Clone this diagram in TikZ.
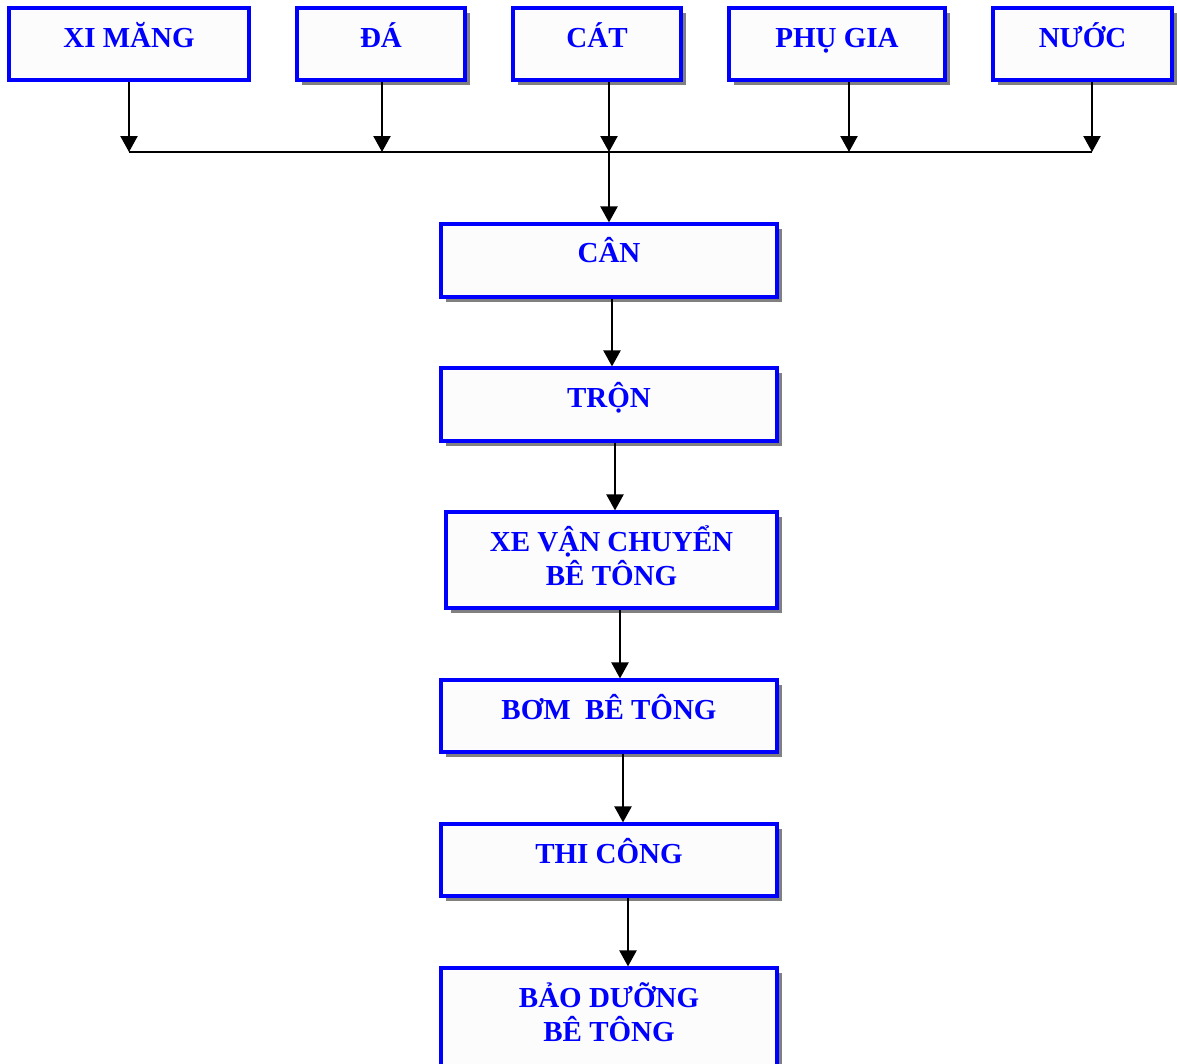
\documentclass[tikz,border=0pt]{standalone}
\usepackage{fontspec}
\setmainfont{Liberation Serif}
\usetikzlibrary{arrows.meta,shadows}
\definecolor{boxblue}{RGB}{0,0,255}
\definecolor{shadowgray}{RGB}{128,128,128}
\tikzset{
	flatbox/.style 2 args={draw=boxblue, line width=1.8pt, fill=white!99!black,
		minimum width=#1*0.02cm, minimum height=#2*0.02cm, inner sep=0pt},
	box/.style 2 args={flatbox={#1}{#2},
		drop shadow={shadow xshift=0.1cm, shadow yshift=-0.1cm, fill=shadowgray, opacity=1}},
	lbl/.style={text=boxblue, font=\fontsize{16.5}{19.2}\selectfont\bfseries,
		anchor=base, align=center, inner sep=0pt},
	link/.style={line width=1.3pt},
	arr/.style={link, -{Triangle[width=0.34cm,length=0.32cm]}}
}
\begin{document}
\begin{tikzpicture}[x=0.02cm,y=-0.02cm]
	\useasboundingbox (0,0) rectangle (1177,1064);

	% input materials
	\node[flatbox={240}{72}] (ximang) at (129,44) {};
	\node[box={168}{72}] (da) at (381,44) {};
	\node[box={168}{72}] (cat) at (597,44) {};
	\node[box={216}{72}] (phugia) at (837,44) {};
	\node[box={179}{72}] (nuoc) at (1082.5,44) {};

	% process steps
	\node[box={336}{73}] (can) at (609,260.5) {};
	\node[box={336}{73}] (tron) at (609,404.5) {};
	\node[box={331}{96}] (xe) at (611.5,560) {};
	\node[box={336}{72}] (bom) at (609,716) {};
	\node[box={336}{72}] (thicong) at (609,860) {};
	\node[box={336}{102}] (baoduong) at (609,1019) {};

	% labels (base = last line)
	\node[lbl] (ximangtxt) at (129,48) {XI MĂNG};
	\node[lbl] (datxt) at (381,48) {ĐÁ};
	\node[lbl] (cattxt) at (597,48) {CÁT};
	\node[lbl] (phugiatxt) at (837,48) {PHỤ GIA};
	\node[lbl] (nuoctxt) at (1082.5,48) {NƯỚC};
	\node[lbl] (cantxt) at (609,263) {CÂN};
	\node[lbl] (trontxt) at (609,407) {TRỘN};
	\node[lbl] (xetxt) at (611.5,585) {XE VẬN CHUYỂN\\BÊ TÔNG};
	\node[lbl] (bomtxt) at (609,719) {BƠM~ BÊ TÔNG};
	\node[lbl] (thicongtxt) at (609,863) {THI CÔNG};
	\node[lbl] (baoduongtxt) at (609,1041) {BẢO DƯỠNG\\BÊ TÔNG};

	% collecting line
	\coordinate (jximang) at (129,152);
	\coordinate (jda) at (382,152);
	\coordinate (jcat) at (609,152);
	\coordinate (jphugia) at (849,152);
	\coordinate (jnuoc) at (1092,152);
	\draw[link] (jximang) -- (jnuoc);

	\draw[arr] (ximang.south -| jximang) -- (jximang);
	\draw[arr] (da.south -| jda) -- (jda);
	\draw[arr] (cat.south -| jcat) -- (jcat);
	\draw[arr] (phugia.south -| jphugia) -- (jphugia);
	\draw[arr] (nuoc.south -| jnuoc) -- (jnuoc);

	\draw[arr] (jcat) -- (can.north -| jcat);
	\draw[arr] (can.south -| 612,0) -- (tron.north -| 612,0);
	\draw[arr] (tron.south -| 615,0) -- (xe.north -| 615,0);
	\draw[arr] (xe.south -| 620,0) -- (bom.north -| 620,0);
	\draw[arr] (bom.south -| 623,0) -- (thicong.north -| 623,0);
	\draw[arr] (thicong.south -| 628,0) -- (baoduong.north -| 628,0);
\end{tikzpicture}
\end{document}
